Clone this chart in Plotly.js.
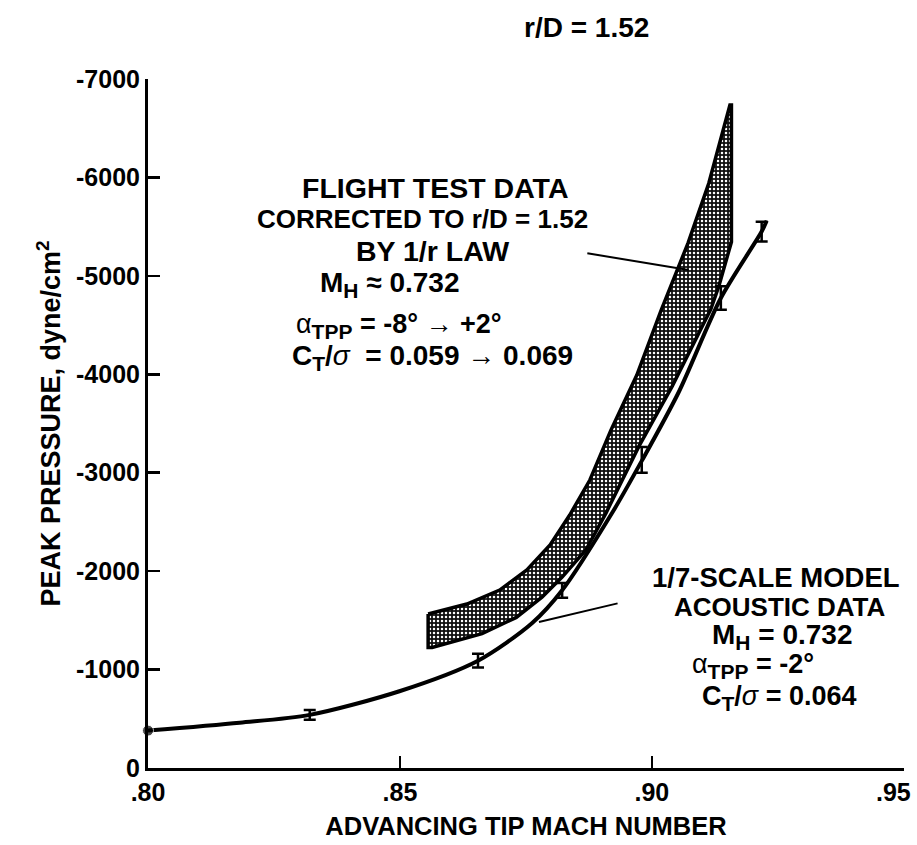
<!DOCTYPE html>
<html>
<head>
<meta charset="utf-8">
<script src="https://cdn.plot.ly/plotly-3.0.1.min.js"></script>
<style>html,body{margin:0;padding:0;background:#fff;}#chart{width:917px;height:845px;}</style>
</head>
<body>
<div id="chart"></div>
<script>
// ---- data ----
// 1/7-scale model acoustic data (points with error bars)
const modelMach = [0.800, 0.8321, 0.8655, 0.8822, 0.8980, 0.9137, 0.9218];
const modelPressure = [-380, -540, -1090, -1805, -3130, -4775, -5450];
const modelError = [0, 50, 70, 75, 130, 120, 100];

// faired curve through the model data
const curveMach = [0.800, 0.8182, 0.8321, 0.8499, 0.8655, 0.8762, 0.8822, 0.8921, 0.8980, 0.9053, 0.9137, 0.9218, 0.9228];
const curvePressure = [-380, -460, -540, -780, -1090, -1470, -1805, -2590, -3120, -3815, -4775, -5450, -5560];

// flight test data band (outline, clockwise)
const bandMach = [0.8556, 0.8633, 0.8698, 0.8752, 0.8798, 0.8837, 0.8877, 0.8919, 0.8970, 0.9018, 0.9072, 0.9113, 0.9155,
                  0.9158, 0.9158, 0.9133, 0.9117, 0.9107, 0.9040, 0.8974, 0.8909, 0.8869, 0.8822, 0.8782, 0.8731, 0.8663, 0.8564, 0.8556, 0.8556];
const bandPressure = [-1565, -1666, -1808, -2012, -2266, -2570, -2926, -3435, -3990, -4645, -5335, -5940, -6736,
                      -6736, -5345, -4895, -4660, -4560, -3875, -3265, -2590, -2215, -1940, -1735, -1530, -1365, -1225, -1225, -1565];

// axis ticks
const xTickVals = [0.80, 0.85, 0.90, 0.95];
const xTickText = ['.80', '.85', '.90', '.95\u00a0\u00a0\u00a0'];
const yTickVals = [0, -1000, -2000, -3000, -4000, -5000, -6000, -7000];
const yTickText = ['0', '-1000', '-2000', '-3000', '-4000', '-5000', '-6000', '-7000'];

// ---- layout helpers ----
const FONT = 'Liberation Sans, Arial, Helvetica, sans-serif';
const L = 148, R = 904, T = 79, B = 768;
const px = v => (v - L) / (R - L);
const py = v => (B - v) / (B - T);
const sub = s => '<sub><span style="font-size:21px">' + s + '</span></sub>';
const alpha = '<span style="font-weight:normal">\u03b1</span>';
const sigma = '<i style="font-weight:normal">\u03c3</i>';

function label(text, x, y, anchor, size) {
  return {text: text, xref: 'paper', yref: 'paper', x: px(x), y: py(y), xanchor: anchor || 'center', yanchor: 'middle',
          showarrow: false, font: {family: FONT, size: size || 27, color: '#000', weight: 'bold'}};
}

const traces = [
  {
    x: bandMach, y: bandPressure, type: 'scatter', mode: 'lines', fill: 'toself',
    line: {color: '#000', width: 3.5}, fillcolor: '#111',
    fillpattern: {shape: '.', bgcolor: '#111', fgcolor: '#fff', size: 4, solidity: 0.3},
    hoverinfo: 'skip', showlegend: false
  },
  {
    x: curveMach, y: curvePressure, type: 'scatter', mode: 'lines', line: {color: '#000', width: 4, shape: 'spline', smoothing: 0.8},
    showlegend: false, cliponaxis: false
  },
  {
    x: modelMach, y: modelPressure, type: 'scatter', mode: 'markers',
    marker: {color: '#000', size: [11, 0, 0, 0, 0, 0, 0]},
    error_y: {type: 'data', array: modelError, visible: true, color: '#000', thickness: 2.5, width: 6},
    showlegend: false, cliponaxis: false
  }
];

const annotations = [
  label('r/D = 1.52', 586, 28, 'center', 28),
  label('FLIGHT TEST DATA', 435, 188, 'center', 28.5),
  label('CORRECTED TO r/D = 1.52', 422, 219, 'center', 26),
  label('BY 1/r LAW', 432, 251, 'center', 28.5),
  label('M' + sub('H') + ' \u2248 0.732', 318, 284, 'left', 28),
  label(alpha + sub('TPP') + ' = -8\u00b0 \u2192 +2\u00b0', 294, 326, 'left', 27),
  label('C' + sub('T') + '/' + sigma + '  = 0.059 \u2192 0.069', 290, 357, 'left', 28),
  label('1/7-SCALE MODEL', 776, 577, 'center', 27.5),
  label('ACOUSTIC DATA', 780, 607, 'center', 26),
  label('M' + sub('H') + ' = 0.732', 710, 636, 'left', 28),
  label(alpha + sub('TPP') + ' = -2\u00b0', 690, 666, 'left', 27),
  label('C' + sub('T') + '/' + sigma + ' = 0.064', 700, 698, 'left', 27),
  // pointer lines
  {x: 0.9073, y: -5060, ax: 0.8869, ay: -5232, xref: 'x', yref: 'y', axref: 'x', ayref: 'y', text: '', showarrow: true, arrowhead: 0, arrowwidth: 2, arrowcolor: '#000', standoff: 0, startstandoff: 0},
  {x: 0.8776, y: -1483, ax: 0.8935, ay: -1676, xref: 'x', yref: 'y', axref: 'x', ayref: 'y', text: '', showarrow: true, arrowhead: 0, arrowwidth: 2, arrowcolor: '#000', standoff: 0, startstandoff: 0}
];

const layout = {
  width: 917, height: 845,
  margin: {l: L, r: 917 - R, t: T, b: 845 - B, pad: 0},
  paper_bgcolor: '#fff', plot_bgcolor: '#fff',
  font: {family: FONT, color: '#000', size: 25, weight: 'bold'},
  showlegend: false,
  xaxis: {
    range: [0.80, 0.95005], showgrid: false, zeroline: false,
    showline: true, linecolor: '#000', linewidth: 3,
    ticks: 'inside', ticklen: 12, tickwidth: 2.5, tickcolor: '#000',
    tickvals: xTickVals, ticktext: xTickText, ticklabeloverflow: 'allow',
    tickfont: {family: FONT, size: 25, color: '#000', weight: 'bold'},
    title: {text: 'ADVANCING TIP MACH NUMBER', font: {family: FONT, size: 25.5, color: '#000', weight: 'bold'}, standoff: 13}
  },
  yaxis: {
    range: [0, -7000], showgrid: false, zeroline: false,
    showline: true, linecolor: '#000', linewidth: 3,
    ticks: 'inside', ticklen: 12, tickwidth: 2.5, tickcolor: '#000',
    tickvals: yTickVals, ticktext: yTickText,
    tickfont: {family: FONT, size: 25, color: '#000', weight: 'bold'},
    title: {text: 'PEAK PRESSURE, dyne/cm<sup>2</sup>', font: {family: FONT, size: 27, color: '#000', weight: 'bold'}, standoff: 8}
  },
  annotations: annotations
};

Plotly.newPlot('chart', traces, layout, {staticPlot: true, displayModeBar: false});
</script>
</body>
</html>
